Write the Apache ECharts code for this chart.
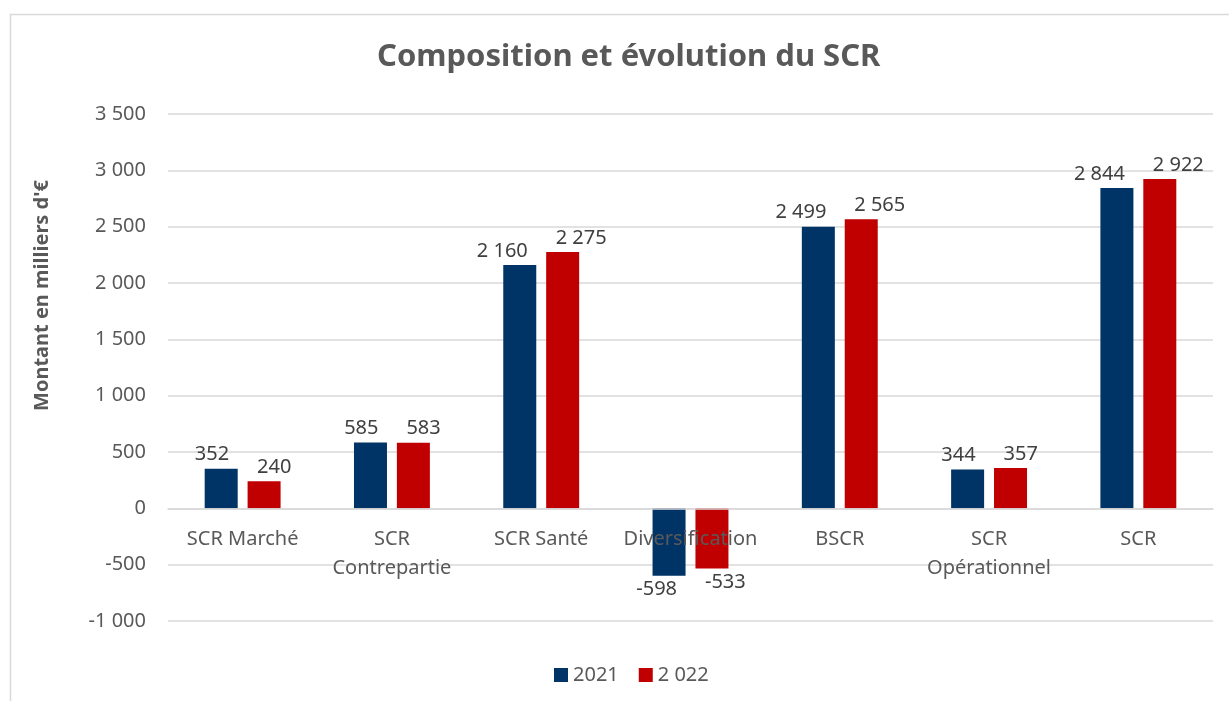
<!DOCTYPE html>
<html>
<head>
<meta charset="utf-8">
<script src="https://cdn.jsdelivr.net/npm/echarts@6/dist/echarts.min.js"></script>
<style>
  html, body { margin: 0; padding: 0; background: #fff; }
  #chart { width: 1229px; height: 701px; }
</style>
</head>
<body>
<div id="chart"></div>
<script>
var categories = ['SCR Marché', 'SCR\nContrepartie', 'SCR Santé', 'Diversification', 'BSCR', 'SCR\nOpérationnel', 'SCR'];
var seriesNames = ['2021', '2 022'];
var values2021 = [352, 585, 2160, -598, 2499, 344, 2844];
var values2022 = [240, 583, 2275, -533, 2565, 357, 2922];
var yMin = -1000, yMax = 3500, yStep = 500;

var textColor = '#595959';
var fontFam = '"Noto Sans", "Open Sans", sans-serif';
var gridTop = 114, gridBottom = 80;
var gridH = 701 - gridTop - gridBottom;
// remonte l'axe des catégories jusqu'à la ligne du zéro (étiquettes comprises)
var xOffset = -gridH * (0 - yMin) / (yMax - yMin);

// espace comme séparateur de milliers
function fmt(n) {
    var s = String(Math.abs(n)).replace(/\B(?=(\d{3})+(?!\d))/g, ' ');
    return (n < 0 ? '-' : '') + s;
}

function withLabels(arr) {
    return arr.map(function (v) {
        if (v < 0) {
            return { value: v, label: { position: 'bottom' } };
        }
        return v;
    });
}

var chart = echarts.init(document.getElementById('chart'));
var option = {
    backgroundColor: '#fff',
    animation: false,
    textStyle: { fontFamily: fontFam },
    graphic: [{
        type: 'rect',
        shape: { x: 10.5, y: 14.5, width: 1240, height: 720 },
        style: { fill: 'none', stroke: '#d9d9d9', lineWidth: 1.5 },
        silent: true,
        z: -10
    }],
    title: {
        text: 'Composition et évolution du SCR',
        left: 372,
        top: 37,
        textStyle: { color: textColor, fontSize: 31, fontWeight: 'bold', fontFamily: fontFam }
    },
    legend: {
        bottom: 11,
        left: 549,
        itemWidth: 14,
        itemHeight: 14,
        itemGap: 20,
        icon: 'rect',
        textStyle: { color: textColor, fontSize: 20, fontFamily: fontFam },
        data: seriesNames
    },
    grid: { left: 168, right: 16, top: gridTop, bottom: gridBottom },
    xAxis: {
        type: 'category',
        data: categories,
        offset: xOffset,
        zlevel: 1,
        axisLine: { onZero: false, lineStyle: { color: '#d9d9d9', width: 1.5 } },
        axisTick: { show: false },
        axisLabel: { color: textColor, fontSize: 20, margin: 16, lineHeight: 29, interval: 0, fontFamily: fontFam }
    },
    yAxis: {
        type: 'value',
        min: yMin,
        max: yMax,
        interval: yStep,
        name: "Montant en milliers d'€",
        nameLocation: 'middle',
        nameRotate: 90,
        nameGap: 116,
        nameTextStyle: { color: textColor, fontSize: 20, fontWeight: 'bold', fontFamily: fontFam, padding: [0, 0, 0, 144] },
        axisLine: { show: false },
        axisTick: { show: false },
        splitLine: { lineStyle: { color: '#d9d9d9', width: 1.5 } },
        axisLabel: { color: textColor, fontSize: 20, margin: 22, formatter: fmt, fontFamily: fontFam }
    },
    series: [{
        name: seriesNames[0],
        type: 'bar',
        data: withLabels(values2021),
        barWidth: 33,
        barGap: '30%',
        itemStyle: { color: '#003366' },
        label: {
            show: true,
            position: 'top',
            align: 'right',
            offset: [8, 0],
            distance: 4,
            color: '#404040',
            fontSize: 20,
            fontFamily: fontFam,
            formatter: function (p) { return fmt(p.value); }
        }
    }, {
        name: seriesNames[1],
        type: 'bar',
        data: withLabels(values2022),
        barWidth: 33,
        itemStyle: { color: '#c00000' },
        label: {
            show: true,
            position: 'top',
            align: 'left',
            offset: [-7, 0],
            distance: 4,
            color: '#404040',
            fontSize: 20,
            fontFamily: fontFam,
            formatter: function (p) { return fmt(p.value); }
        }
    }]
};
chart.setOption(option);
</script>
</body>
</html>
